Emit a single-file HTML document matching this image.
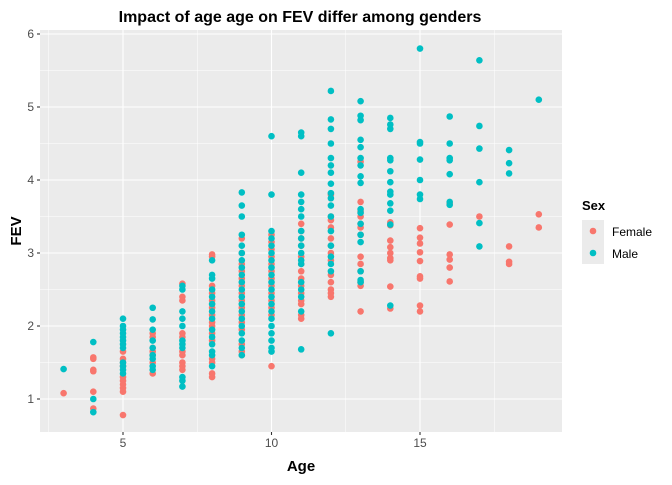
<!DOCTYPE html>
<html><head><meta charset="utf-8"><style>
body{margin:0;background:#fff;font-family:"Liberation Sans",Arial,sans-serif}
</style></head><body>
<svg id="chart" width="672" height="480" xmlns="http://www.w3.org/2000/svg">
<text x="300" y="22" text-anchor="middle" font-weight="bold" font-size="16" fill="#000">Impact of age age on FEV differ among genders</text>
<rect x="40" y="30" width="522" height="402" fill="#ebebeb"/>
<g id="grid"></g>
<g id="pts"></g>
<g id="axes"></g>
<text x="301" y="471" text-anchor="middle" font-weight="bold" font-size="15">Age</text>
<text transform="translate(21,231) rotate(-90)" text-anchor="middle" font-weight="bold" font-size="15">FEV</text>
<g>
<text x="582" y="210" font-weight="bold" font-size="13">Sex</text>
<g><rect x="582" y="220" width="22" height="22" fill="#ebebeb"/><circle cx="593" cy="231" r="3.3" fill="#F8766D"/><text x="612" y="236" font-size="12" fill="#000">Female</text></g>
<g><rect x="582" y="242" width="22" height="22" fill="#ebebeb"/><circle cx="593" cy="253" r="3.3" fill="#00BFC4"/><text x="612" y="258" font-size="12" fill="#000">Male</text></g>
</g>
</svg>
<script>
const ages=[3,4,5,6,7,8,9,10,11,12,13,14,15,16,17,18,19];
const femaleFEV=[
[1.08],
[1.57,1.55,1.40,1.38,1.10,0.87],
[1.65,1.55,1.5,1.45,1.3,1.25,1.2,1.15,1.1,0.78],
[1.9,1.85,1.7,1.65,1.6,1.5,1.35],
[2.58,2.4,2.35,1.9,1.85,1.65,1.6,1.5,1.45,1.4],
[2.98,2.95,2.55,2.45,2.35,2.25,2.15,2.05,2.0,1.9,1.8,1.55,1.5,1.35,1.3],
[3.2,3.0,2.85,2.75,2.65,2.55,2.45,2.35,2.25,2.15,2.05,1.95,1.75,1.65,1.6],
[3.25,3.15,3.05,2.95,2.85,2.75,2.65,2.55,2.45,2.35,2.25,2.15,1.45],
[3.4,3.3,3.2,3.1,2.95,2.85,2.75,2.65,2.55,2.45,2.35,2.3,2.15,2.1],
[3.8,3.5,3.45,3.35,3.2,3.1,3.0,2.9,2.7,2.6,2.5,2.45,2.4],
[4.25,3.7,3.57,3.5,3.4,3.35,3.25,2.95,2.85,2.75,2.6,2.55,2.2],
[3.42,3.38,3.17,3.08,3.0,2.93,2.9,2.54,2.24],
[3.34,3.21,3.13,3.01,2.89,2.68,2.65,2.28,2.2],
[3.68,3.39,2.98,2.91,2.8,2.61],
[3.5],
[3.09,2.88,2.85],
[3.53,3.35]];
const maleFEV=[
[1.41],
[1.78,1.0,0.82],
[2.1,2.0,1.95,1.9,1.85,1.8,1.75,1.7,1.5,1.45,1.4,1.35],
[2.25,2.09,1.95,1.8,1.7,1.6,1.55,1.45,1.4],
[2.55,2.5,2.2,2.1,2.0,1.8,1.75,1.7,1.3,1.25,1.17],
[2.9,2.7,2.65,2.5,2.4,2.3,2.2,2.1,1.95,1.85,1.75,1.65,1.6,1.45],
[3.83,3.65,3.5,3.25,3.1,3.0,2.9,2.8,2.7,2.6,2.5,2.4,2.3,2.2,2.1,2.0,1.9,1.8,1.7,1.6],
[4.6,3.8,3.3,3.2,3.1,3.0,2.9,2.8,2.7,2.6,2.5,2.4,2.3,2.2,2.1,2.0,1.9,1.8,1.7,1.65],
[4.65,4.6,4.1,3.8,3.7,3.6,3.5,3.3,3.2,3.1,3.0,2.9,2.85,2.6,2.5,2.4,2.2,1.68],
[5.22,4.83,4.7,4.5,4.3,4.2,4.1,3.95,3.82,3.75,3.65,3.5,3.3,3.1,2.95,2.85,2.75,1.9],
[5.08,4.88,4.82,4.55,4.45,4.3,4.2,4.05,3.96,3.6,3.55,3.4,3.25,3.15,2.75,2.63,2.6],
[4.85,4.76,4.7,4.3,4.27,4.12,3.97,3.84,3.8,3.68,3.58,3.39,2.28],
[5.8,4.52,4.5,4.28,4.0,3.8,3.74],
[4.87,4.5,4.3,4.27,4.08,3.7,3.66],
[5.64,4.74,4.43,3.97,3.41,3.09],
[4.41,4.23,4.09],
[5.1]];
const xTicks=[5,10,15];
const yTicks=[1,2,3,4,5,6];
const NS="http://www.w3.org/2000/svg";
function X(a){return 123+(a-5)*29.7;}
function Y(v){return 399-(v-1)*73;}
function mk(tag,attrs,parent){const e=document.createElementNS(NS,tag);for(const k in attrs)e.setAttribute(k,attrs[k]);parent.appendChild(e);return e;}
const grid=document.getElementById('grid'),axes=document.getElementById('axes'),pts=document.getElementById('pts');
[2.5,7.5,12.5,17.5].forEach(a=>{const l=mk('line',{x1:X(a),x2:X(a),y1:30,y2:432,stroke:'#fff','stroke-width':0.5},grid);

});
[1.5,2.5,3.5,4.5,5.5].forEach(v=>{const l=mk('line',{x1:40,x2:562,y1:Y(v),y2:Y(v),stroke:'#fff','stroke-width':0.5},grid);

});
xTicks.forEach(a=>{const l=mk('line',{x1:X(a),x2:X(a),y1:30,y2:432,stroke:'#fff','stroke-width':1.1},grid);


const t=mk('line',{x1:X(a),x2:X(a),y1:432,y2:435,stroke:'#333','stroke-width':1.1},axes);


const tx=mk('text',{x:X(a),y:447,'text-anchor':'middle','font-size':12,fill:'#4d4d4d'},axes);tx.textContent=a;

});
yTicks.forEach(v=>{const l=mk('line',{x1:40,x2:562,y1:Y(v),y2:Y(v),stroke:'#fff','stroke-width':1.1},grid);


const t=mk('line',{x1:37,x2:40,y1:Y(v),y2:Y(v),stroke:'#333','stroke-width':1.1},axes);


const tx=mk('text',{x:34,y:Y(v)+4,'text-anchor':'end','font-size':12,fill:'#4d4d4d'},axes);tx.textContent=v;

});
ages.forEach((a,i)=>{
 femaleFEV[i].forEach(v=>{const c=mk('circle',{cx:X(a),cy:Y(v),r:3.3,fill:'#F8766D'},pts);
 
 });
 maleFEV[i].forEach(v=>{const c=mk('circle',{cx:X(a),cy:Y(v),r:3.3,fill:'#00BFC4'},pts);
 
 });
});
</script>
</body></html>
